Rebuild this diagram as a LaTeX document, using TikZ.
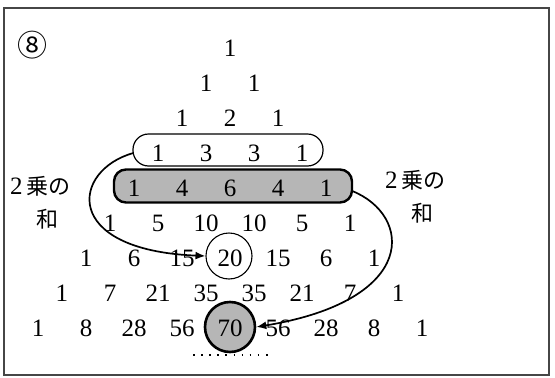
\documentclass[tikz,border=0pt]{standalone}
\usepackage{fontspec}
\newfontfamily\jpfont{Noto Sans CJK JP}
\newfontfamily\numfont{Liberation Serif}
\usetikzlibrary{arrows.meta}
\definecolor{boxgray}{RGB}{182,182,182}
\definecolor{framegray}{RGB}{70,70,70}
\tikzset{
  num/.style={inner sep=0pt, font=\numfont\fontsize{25}{25}\selectfont},
  jp/.style={inner sep=0pt, font=\fontsize{22}{22}\selectfont},
  ringthin/.style={circle, draw, line width=1.1pt, minimum size=46pt, inner sep=0pt},
  ringthick/.style={circle, draw, fill=boxgray, line width=2.6pt, minimum size=50pt, inner sep=0pt},
  sumarrow/.style={line width=1.7pt, -{Latex[length=10pt,width=8pt]}},
}
\begin{document}
\begin{tikzpicture}[x=1pt, y=-1pt]
  \useasboundingbox (0,0) rectangle (555,378);
  \draw[framegray, line width=1.3pt] (4,8) rectangle (549,375);

  % highlighted rows (drawn first, numbers sit on top)
  \node[draw, line width=1.2pt, rounded corners=15.5pt, minimum width=190pt,
        minimum height=32pt] (row3box) at (228,150) {};
  \node[draw, fill=boxgray, line width=2.4pt, rounded corners=12pt,
        minimum width=238pt, minimum height=33pt] (row4box) at (233,186) {};
  \node[ringthin] (ring20) at (229,256) {};
  \node[ringthick] (ring70) at (230,327) {};

  % Pascal's triangle, rows 0 to 8
  \foreach \vals [count=\r from 0] in {
      {1},{1,1},{1,2,1},{1,3,3,1},{1,4,6,4,1},{1,5,10,10,5,1},
      {1,6,15,20,15,6,1},{1,7,21,35,35,21,7,1},{1,8,28,56,70,56,28,8,1}}{
    \foreach \v [count=\c from 0] in \vals {
      \node[num] (r\r c\c) at ({230+(2*\c-\r)*24}, {48+\r*35}) {\v};
    }
  }

  % row labels
  \node[font=\fontsize{30}{30}\selectfont, inner sep=0pt] (circ8) at (32,45) {\jpfont ⑧};
  \node[jp, anchor=west] (lefttop) at (10,186) {\numfont\fontsize{25}{25}\selectfont 2\,\jpfont\fontsize{22}{22}\selectfont 乗の};
  \node[jp] (leftbot) at (47,219) {\jpfont 和};
  \node[jp, anchor=west] (righttop) at (385,180) {\numfont\fontsize{25}{25}\selectfont 2\,\jpfont\fontsize{22}{22}\selectfont 乗の};
  \node[jp] (rightbot) at (422,213) {\jpfont 和};

  % sums of squares
  \draw[sumarrow] (row3box.west) ++(1,3) .. controls (72,170) and (60,250) .. (ring20.west);
  \draw[sumarrow] (row4box.east) ++(-1,5) .. controls (412,215) and (420,300) .. (ring70.east);

  % continuation dots
  \coordinate (dotsL) at (193,355);
  \coordinate (dotsR) at (268,355);
  \draw[line width=1.6pt, dash pattern=on 1.6pt off 6.5pt] (dotsL) -- (dotsR);
\end{tikzpicture}
\end{document}
